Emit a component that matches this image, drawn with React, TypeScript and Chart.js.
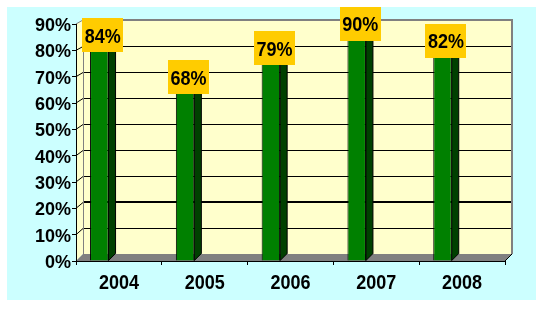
import React, { useEffect, useRef } from 'react';
import { Chart, registerables } from 'chart.js';

Chart.register(...registerables);

const categories = ['2004', '2005', '2006', '2007', '2008'];
const values = [84, 68, 79, 90, 82];
const valueLabels = ['84%', '68%', '79%', '90%', '82%'];
const yMax = 90;
const yStep = 10;

const DEPTH = 7;
const FONT = '"Liberation Sans", Arial, sans-serif';
const STRETCH = 1.13;

function drawStretchedText(ctx: any, text: string, x: number, baseline: number) {
  ctx.save();
  ctx.translate(x, baseline);
  ctx.scale(1, STRETCH);
  ctx.fillText(text, 0, 0);
  ctx.restore();
}

const scenePlugin = {
  id: 'scene3d',
  beforeDraw(chart: any) {
    const ctx = chart.ctx;
    const { left: L, right: R, top: T, bottom: B } = chart.chartArea;
    const yS = chart.scales.y;
    const backTop = 20;
    const backBottom = B - DEPTH;
    const backY = (v: number) => backBottom - ((backBottom - backTop) * v) / yMax;
    ctx.save();
    ctx.fillStyle = '#ffffff';
    ctx.fillRect(0, 0, chart.width, chart.height);
    ctx.fillStyle = '#ccffff';
    ctx.fillRect(7, 7, 529, 293);
    // side wall
    ctx.fillStyle = '#ffffcc';
    ctx.beginPath();
    ctx.moveTo(L, B);
    ctx.lineTo(L + DEPTH, backBottom);
    ctx.lineTo(L + DEPTH, backTop);
    ctx.lineTo(L, T);
    ctx.closePath();
    ctx.fill();
    // back wall
    ctx.fillRect(L + DEPTH, backTop, R - L, backBottom - backTop);
    // floor
    ctx.fillStyle = '#808080';
    ctx.beginPath();
    ctx.moveTo(L, B);
    ctx.lineTo(L + DEPTH, backBottom);
    ctx.lineTo(R + DEPTH, backBottom);
    ctx.lineTo(R, B);
    ctx.closePath();
    ctx.fill();
    // grid lines on back wall
    yS.ticks.forEach((t: any) => {
      const v = t.value;
      if (v === 0 || v === yMax) return;
      const yb = Math.round(backY(v));
      const yf = yS.getPixelForValue(v);
      ctx.strokeStyle = '#000000';
      ctx.lineWidth = v === 20 ? 2 : 1;
      ctx.beginPath();
      ctx.moveTo(L + DEPTH, v === 20 ? yb : yb + 0.5);
      ctx.lineTo(R + DEPTH, v === 20 ? yb : yb + 0.5);
      ctx.stroke();
      ctx.lineWidth = 1;
      ctx.beginPath();
      ctx.moveTo(L, yf);
      ctx.lineTo(L + DEPTH, yb + 0.5);
      ctx.stroke();
    });
    // wall borders
    ctx.strokeStyle = '#808080';
    ctx.lineWidth = 2;
    ctx.beginPath();
    ctx.moveTo(L + DEPTH, backTop);
    ctx.lineTo(R + DEPTH, backTop);
    ctx.lineTo(R + DEPTH, backBottom);
    ctx.stroke();
    ctx.lineWidth = 1;
    ctx.beginPath();
    ctx.moveTo(L + DEPTH + 0.5, backTop);
    ctx.lineTo(L + DEPTH + 0.5, backBottom);
    ctx.moveTo(L, T);
    ctx.lineTo(L + DEPTH, backTop);
    ctx.stroke();
    // floor right edge
    ctx.strokeStyle = '#000000';
    ctx.beginPath();
    ctx.moveTo(R, B);
    ctx.lineTo(R + DEPTH, backBottom);
    ctx.stroke();
    ctx.restore();
  },
  afterDatasetsDraw(chart: any) {
    const ctx = chart.ctx;
    const meta = chart.getDatasetMeta(0);
    ctx.save();
    ctx.strokeStyle = '#000000';
    ctx.lineWidth = 1;
    meta.data.forEach((el: any) => {
      const xl = el.x - el.width / 2;
      const xr = el.x + el.width / 2;
      const y = el.y;
      const base = el.base;
      // side face
      ctx.fillStyle = '#004000';
      ctx.beginPath();
      ctx.moveTo(xr, y);
      ctx.lineTo(xr + DEPTH, y - DEPTH);
      ctx.lineTo(xr + DEPTH, base - DEPTH);
      ctx.lineTo(xr, base);
      ctx.closePath();
      ctx.fill();
      ctx.stroke();
      // top face
      ctx.fillStyle = '#00a000';
      ctx.beginPath();
      ctx.moveTo(xl, y);
      ctx.lineTo(xl + DEPTH, y - DEPTH);
      ctx.lineTo(xr + DEPTH, y - DEPTH);
      ctx.lineTo(xr, y);
      ctx.closePath();
      ctx.fill();
      ctx.stroke();
    });
    ctx.restore();
  },
  afterDraw(chart: any) {
    const ctx = chart.ctx;
    const meta = chart.getDatasetMeta(0);
    const xS = chart.scales.x;
    const bw = 41;
    const bh = 34;
    ctx.save();
    ctx.font = `bold 18px ${FONT}`;
    ctx.textAlign = 'center';
    ctx.textBaseline = 'alphabetic';
    // category labels, placed by the x scale
    ctx.fillStyle = '#000000';
    xS.ticks.forEach((_t: any, i: number) => {
      const x = xS.getPixelForTick(i);
      drawStretchedText(ctx, String(xS.getLabelForValue(i)), x, 289);
    });
    // value labels
    meta.data.forEach((el: any, i: number) => {
      const cx = el.x + DEPTH / 2;
      const cy = Math.max(el.y - 4.5, 7 + bh / 2);
      ctx.fillStyle = '#ffcc00';
      ctx.fillRect(Math.round(cx - bw / 2), Math.round(cy - bh / 2), bw, bh);
      ctx.fillStyle = '#000000';
      drawStretchedText(ctx, valueLabels[i], cx, cy + 7.3);
    });
    ctx.restore();
  },
};

export default function App() {
  const ref = useRef<HTMLCanvasElement>(null);
  useEffect(() => {
    Chart.defaults.font.family = FONT;
    const chart = new Chart(ref.current as HTMLCanvasElement, {
      type: 'bar',
      data: {
        labels: categories,
        datasets: [
          {
            data: values,
            backgroundColor: '#008000',
            borderColor: '#000000',
            borderWidth: 1,
            categoryPercentage: 0.914,
            barPercentage: 0.472,
          },
          {
            data: categories.map(() => null),
            backgroundColor: 'rgba(0,0,0,0)',
            categoryPercentage: 0.914,
            barPercentage: 0.472,
          },
        ],
      },
      options: {
        responsive: false,
        maintainAspectRatio: false,
        animation: false,
        layout: { padding: { left: 0, top: 24, right: 38, bottom: 0 } },
        plugins: { legend: { display: false }, tooltip: { enabled: false } },
        scales: {
          x: {
            afterFit: (s: any) => {
              s.height = 58;
            },
            grid: {
              drawOnChartArea: false,
              offset: true,
              tickLength: 4,
              color: '#000000',
            },
            border: { display: true, color: '#000000', width: 1 },
            ticks: {
              display: false,
              color: '#000000',
              font: { size: 18, weight: 'bold', family: FONT },
              maxRotation: 0,
            },
          },
          y: {
            min: 0,
            max: yMax,
            afterFit: (s: any) => {
              s.width = 76;
            },
            grid: {
              drawOnChartArea: false,
              tickLength: 4,
              color: '#000000',
            },
            border: { display: true, color: '#000000', width: 1 },
            ticks: {
              stepSize: yStep,
              color: '#000000',
              font: { size: 18, weight: 'bold', family: FONT },
              padding: 1,
              labelOffset: 2,
              callback: (v: any) => `${v}%`,
            },
          },
        },
      },
      plugins: [scenePlugin],
    } as any);
    return () => chart.destroy();
  }, []);
  return (
    <div style={{ position: 'absolute', left: 0, top: 0, width: 543, height: 319 }}>
      <canvas ref={ref} width={543} height={319} style={{ display: 'block' }} />
    </div>
  );
}
